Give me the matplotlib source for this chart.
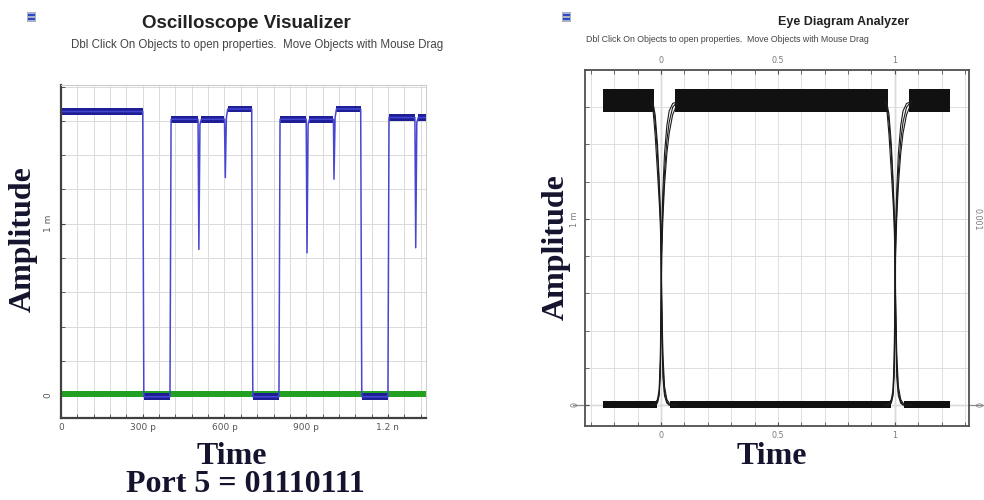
import matplotlib
matplotlib.use("Agg")
import matplotlib.pyplot as plt
from matplotlib.patches import Rectangle
import numpy as np

# oscilloscope trace (time in ps, amplitude in m units)
osc_t = [0, 300, 304, 400, 404, 503, 506, 510, 515, 600, 603, 607, 612, 700,
         704, 800, 804, 900, 903, 907, 912, 1000, 1002, 1006, 1011, 1100,
         1104, 1200, 1204, 1299, 1302, 1306, 1311, 1340]
osc_a = [1.655, 1.655, -0.01, -0.01, 1.61, 1.61, 0.85, 1.58, 1.61, 1.61,
         1.27, 1.62, 1.67, 1.67, -0.01, -0.01, 1.61, 1.61, 0.83, 1.58, 1.61,
         1.61, 1.26, 1.62, 1.67, 1.67, -0.01, -0.01, 1.62, 1.62, 0.86, 1.59,
         1.62, 1.62]
green_t = [0, 1340]
green_a = [0.005, 0.005]
osc_xticks = [0, 300, 600, 900, 1200]
osc_xlabels = ["0", "300 p", "600 p", "900 p", "1.2 n"]

# eye diagram (time in bit periods)
eye_edge_dt = [-0.045, -0.035, -0.025, -0.015, -0.008, -0.003, 0.0, 0.003,
               0.008, 0.015, 0.025, 0.035, 0.05, 0.07]
eye_fall = [
    [1.63, 1.62, 1.52, 1.35, 1.18, 1.02, 0.85, 0.55, 0.22, 0.07, 0.02, 0.0, 0.0, 0.0],
    [1.63, 1.60, 1.45, 1.25, 1.10, 0.98, 0.80, 0.45, 0.15, 0.05, 0.01, 0.0, 0.0, 0.0],
    [1.63, 1.63, 1.56, 1.40, 1.22, 1.05, 0.90, 0.60, 0.28, 0.10, 0.03, 0.01, 0.0, 0.0],
]
eye_rise = [
    [0.0, 0.0, 0.0, 0.02, 0.06, 0.20, 0.45, 0.85, 1.05, 1.25, 1.42, 1.52, 1.60, 1.63],
    [0.0, 0.0, 0.01, 0.03, 0.08, 0.25, 0.55, 0.95, 1.15, 1.35, 1.50, 1.58, 1.62, 1.63],
    [0.0, 0.0, 0.0, 0.01, 0.05, 0.15, 0.40, 0.80, 1.00, 1.18, 1.35, 1.46, 1.56, 1.62],
]
eye_cross = [0.0, 1.0]
eye_hi_start = [-0.25, 0.06, 1.06]
eye_hi_end = [-0.03, 0.97, 1.235]
eye_lo_start = [-0.25, 0.04, 1.04]
eye_lo_end = [-0.018, 0.982, 1.235]
eye_hi_band = (1.575, 1.70)
eye_lo_band = (-0.015, 0.022)

big_font = dict(family="Liberation Serif", weight="bold", size=23, color="#14142e")
head_font = "Liberation Sans"

fig = plt.figure(figsize=(9.84, 5.0), dpi=100)

# ---------------- oscilloscope ----------------
ax1 = fig.add_axes([0.062, 0.164, 0.371, 0.666])
ax1.fill_between(green_t, np.array(green_a) - 0.018, np.array(green_a) + 0.018,
                 color="#22a022", lw=0)
ax1.plot(osc_t, osc_a, color="#4646d2", lw=1.1)
for i in range(len(osc_t) - 1):
    if osc_a[i] == osc_a[i + 1]:
        ax1.fill_between(osc_t[i:i + 2],
                         [osc_a[i] - 0.02] * 2, [osc_a[i] + 0.02] * 2,
                         color="#1e1e96", lw=0)
ax1.set_xlim(0, 1340)
ax1.set_ylim(-0.134, 1.81)
ax1.set_xticks(osc_xticks, osc_xlabels)
ax1.set_xticks(np.arange(0, 1341, 60), minor=True)
ax1.set_yticks([0, 1], ["0", "1 m"])
ax1.set_yticks(np.arange(0, 1.81, 0.2), minor=True)
ax1.grid(True, which="both", color="#dadada", lw=0.7)
ax1.set_axisbelow(True)
for s in ["left", "bottom"]:
    ax1.spines[s].set_color("#404040")
    ax1.spines[s].set_linewidth(1.6)
for s in ["top", "right"]:
    ax1.spines[s].set_color("#cccccc")
    ax1.spines[s].set_linewidth(0.8)
ax1.tick_params(which="both", direction="in", length=3, color="#404040",
                labelsize=6.5, labelcolor="#555555")
ax1.tick_params(axis="y", labelrotation=90, pad=6)
for lab in ax1.get_yticklabels():
    lab.set_va("center")

fig.text(0.25, 1 - 24 / 500, "Oscilloscope Visualizer", ha="center", va="center",
         family=head_font, weight="bold", size=13.5, color="#222222")
fig.text(0.261, 1 - 45 / 500,
         "Dbl Click On Objects to open properties.  Move Objects with Mouse Drag",
         ha="center", va="center", family=head_font, size=8.3, color="#444444")
fig.text(0.024, 1 - 239 / 500, "Amplitude", rotation=90, ha="center", va="center", **big_font)
fig.text(0.236, 1 - 456 / 500, "Time", ha="center", va="center", **big_font)
fig.text(0.249, 1 - 484 / 500, "Port 5 = 01110111", ha="center", va="center", **big_font)

# ---------------- eye diagram ----------------
ax2 = fig.add_axes([0.5945, 0.148, 0.390, 0.712])
for a, b in zip(eye_hi_start, eye_hi_end):
    ax2.fill_between([a, b], [eye_hi_band[0]] * 2, [eye_hi_band[1]] * 2,
                     color="#111111", lw=0)
for a, b in zip(eye_lo_start, eye_lo_end):
    ax2.fill_between([a, b], [eye_lo_band[0]] * 2, [eye_lo_band[1]] * 2,
                     color="#111111", lw=0)
for c in eye_cross:
    tt = np.array(eye_edge_dt) + c
    for f in eye_fall:
        ax2.plot(tt, f, color="#1a1a1a", lw=0.8)
    for r in eye_rise:
        ax2.plot(tt, r, color="#1a1a1a", lw=0.8)
ax2.set_xlim(-0.325, 1.316)
ax2.set_ylim(-0.113, 1.80)
ax2.set_xticks([0, 0.5, 1], ["0", "0.5", "1"])
ax2.set_xticks(np.arange(-0.3, 1.31, 0.1), minor=True)
ax2.set_yticks([0, 1], ["0", "1 m"])
ax2.set_yticks(np.arange(0, 1.81, 0.2), minor=True)
ax2.grid(True, which="both", color="#dedede", lw=0.7)
ax2.set_axisbelow(True)
for v in eye_cross:
    ax2.axvline(v, color="#8a8a8a", lw=0.9, zorder=0.5)
ax2.plot([-0.03, 1.04], [0, 0], transform=ax2.get_yaxis_transform(),
         color="#8a8a8a", lw=0.9, clip_on=False, zorder=0.5)
for s in ax2.spines.values():
    s.set_color("#505050")
    s.set_linewidth(1.3)
ax2.tick_params(which="both", direction="in", length=3, color="#505050",
                top=True, right=True, labeltop=True, labelsize=5.8,
                labelcolor="#7a7a7a")
ax2.tick_params(axis="y", labelrotation=90, pad=4)
for lab in ax2.get_yticklabels():
    lab.set_va("center")

ax2r = ax2.twinx()
ax2r.set_ylim(ax2.get_ylim())
ax2r.set_yticks([0, 1], ["0", "0.001"])
ax2r.tick_params(length=0, labelsize=5.8, labelcolor="#7a7a7a", pad=3)
for lab in ax2r.get_yticklabels():
    lab.set_rotation(270)
    lab.set_va("center")
for s in ax2r.spines.values():
    s.set_visible(False)

fig.text(0.857, 1 - 22 / 500, "Eye Diagram Analyzer", ha="center", va="center",
         family=head_font, weight="bold", size=9, color="#222222")
fig.text(0.7395, 1 - 40 / 500,
         "Dbl Click On Objects to open properties.  Move Objects with Mouse Drag",
         ha="center", va="center", family=head_font, size=6.3, color="#444444")
fig.text(0.565, 1 - 247 / 500, "Amplitude", rotation=90, ha="center", va="center", **big_font)
fig.text(0.784, 1 - 457 / 500, "Time", ha="center", va="center", **big_font)

# little window icons
for x0, y0 in [(27, 12), (562, 12)]:
    fig.add_artist(Rectangle((x0 / 984, 1 - (y0 + 10) / 500), 9 / 984, 10 / 500,
                             transform=fig.transFigure, color="#a9b0c8", lw=0))
    for dy in (2, 6):
        fig.add_artist(Rectangle(((x0 + 1) / 984, 1 - (y0 + dy + 2) / 500),
                                 7 / 984, 2 / 500, transform=fig.transFigure,
                                 color="#2c48c8", lw=0))

fig.savefig("out.png", dpi=100)
